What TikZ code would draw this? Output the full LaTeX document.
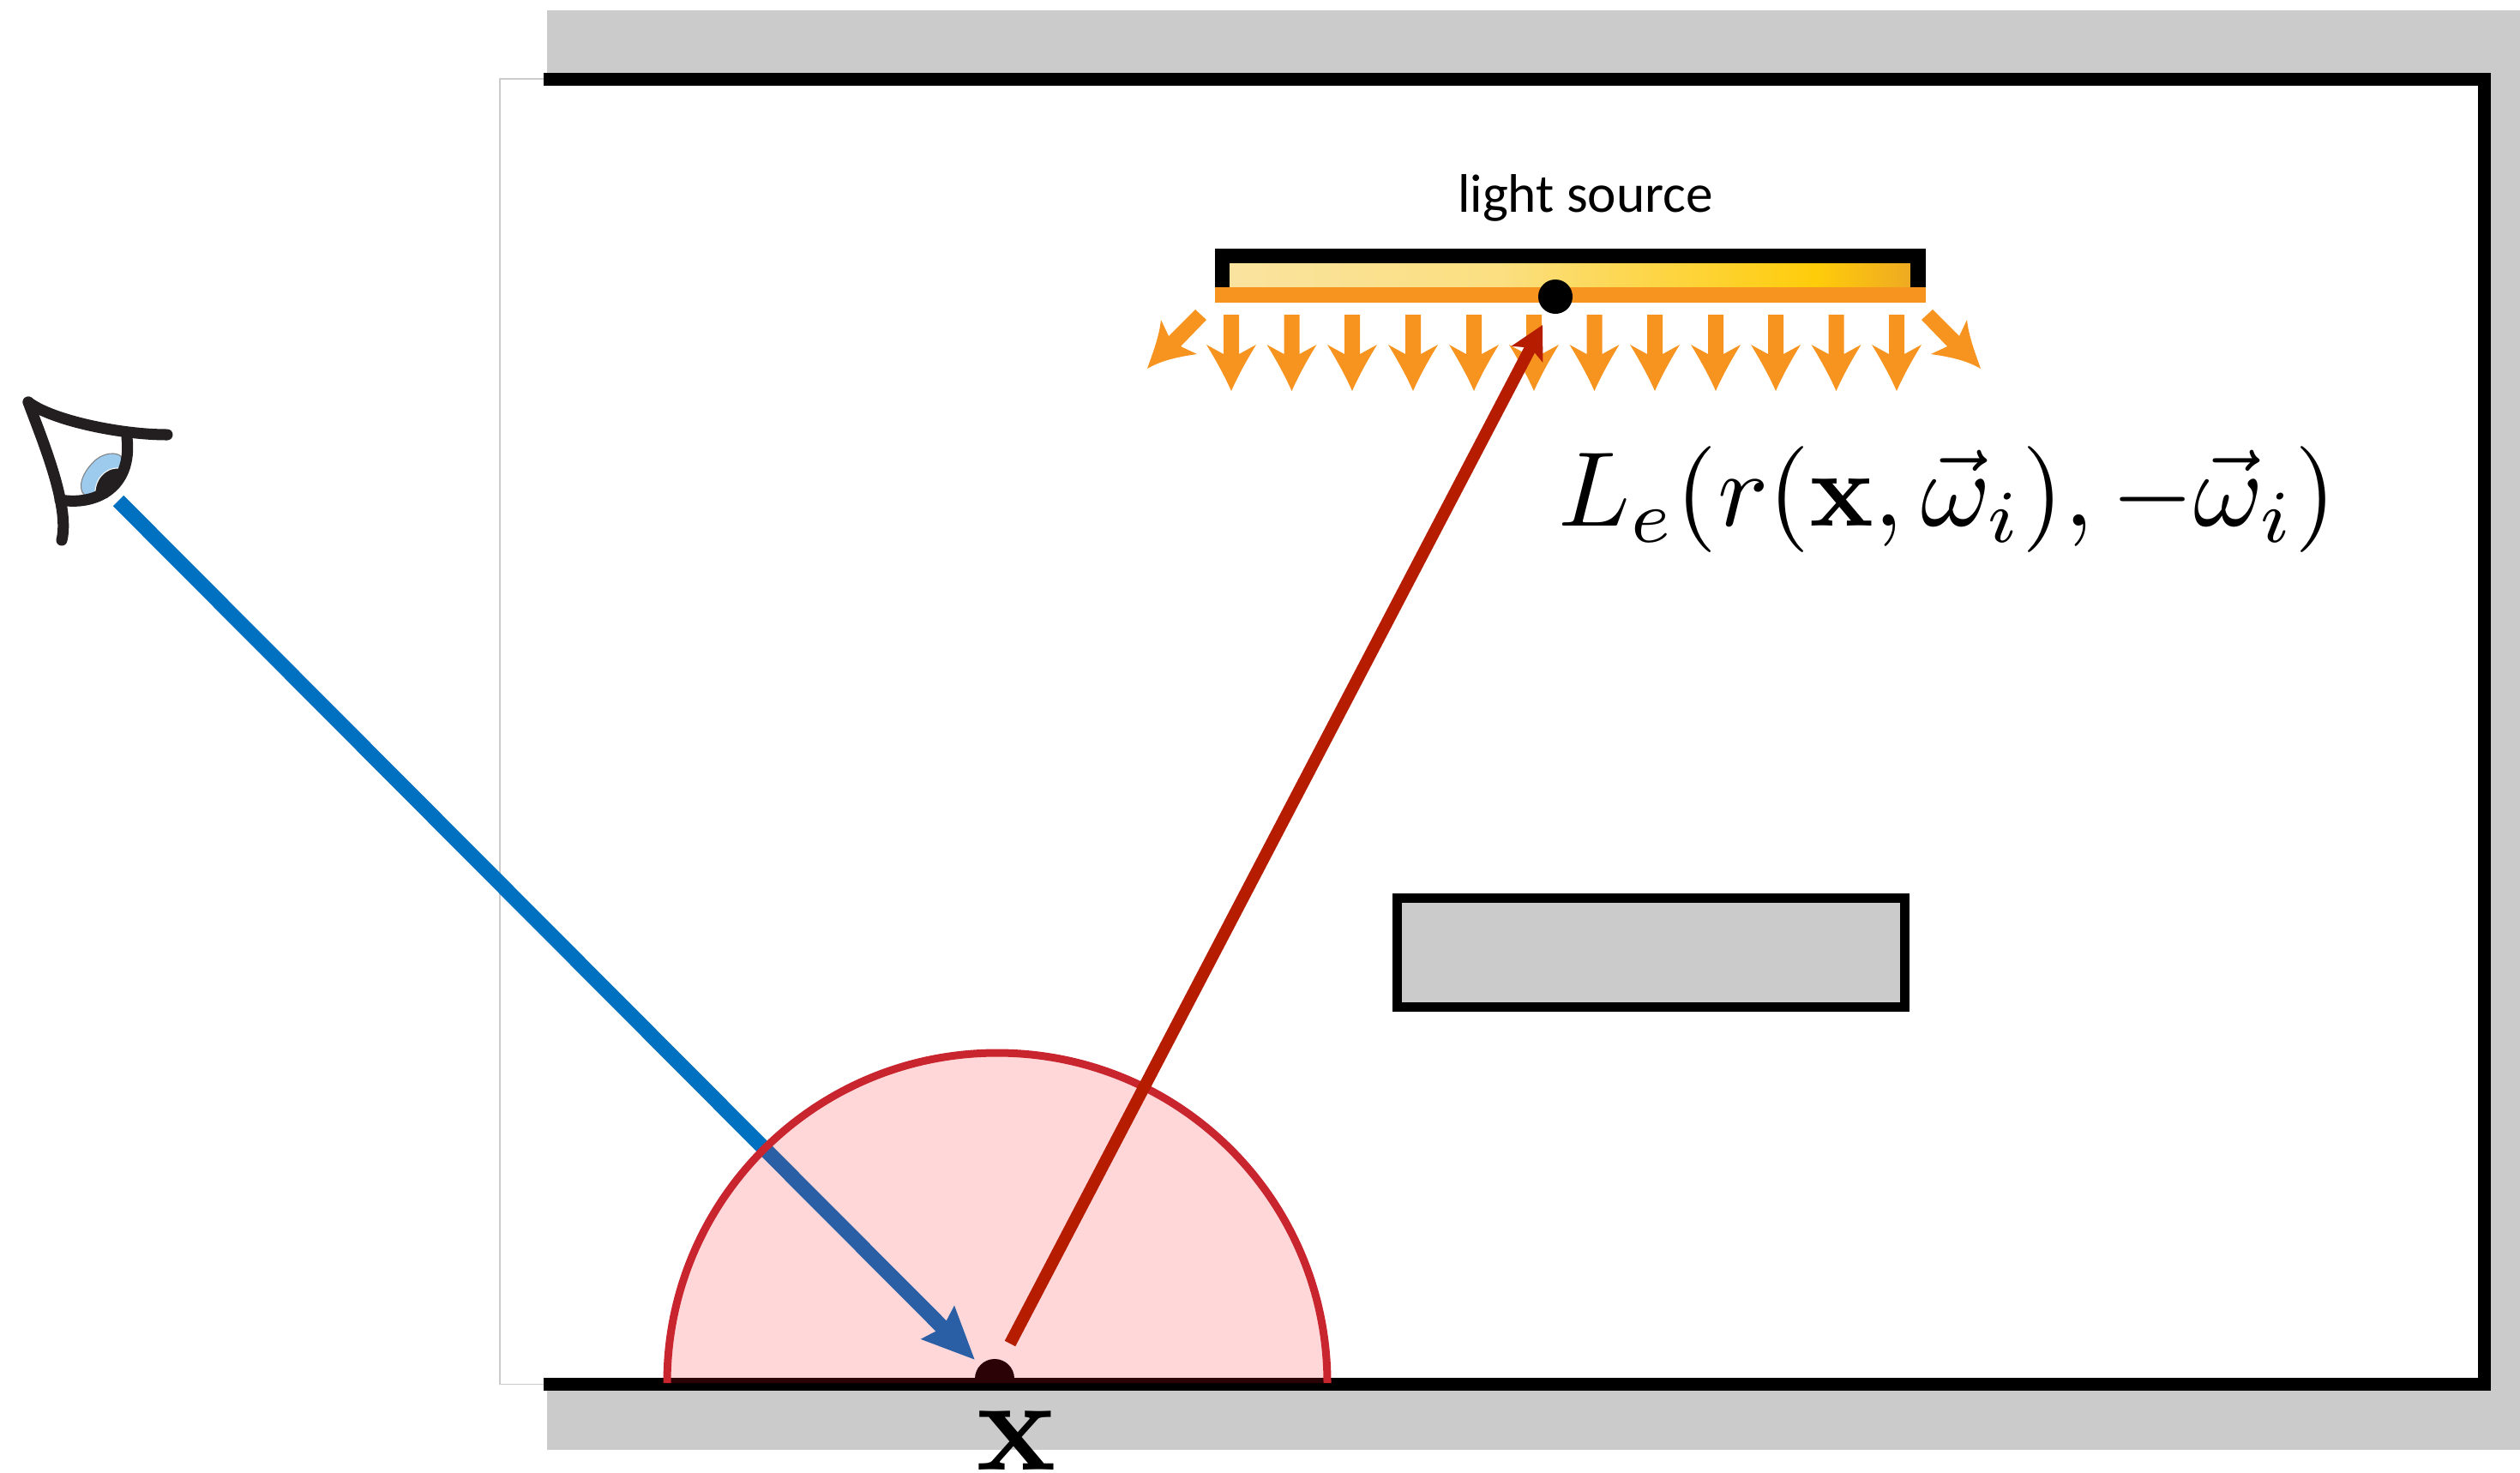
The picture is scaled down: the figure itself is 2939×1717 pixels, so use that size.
\documentclass[tikz,border=0pt]{standalone}
\usepackage{amsmath}
\usepackage[no-math]{fontspec}
\setmainfont{Carlito}
\usetikzlibrary{arrows.meta}
\definecolor{wallgray}{HTML}{CBCBCB}
\definecolor{lamporange}{HTML}{F79420}
\definecolor{rayblue}{HTML}{0070C0}
\definecolor{rayred}{HTML}{B51C00}
\definecolor{domered}{HTML}{FF1020}
\definecolor{domeline}{HTML}{C8252F}
\definecolor{irisblue}{HTML}{9CCBEE}
\definecolor{eyeblack}{HTML}{231F20}
\definecolor{lampA}{HTML}{FAE39F}
\definecolor{lampB}{HTML}{FBDF80}
\definecolor{lampC}{HTML}{FFCC0A}
\definecolor{lampD}{HTML}{EEAA22}
\pgfdeclarehorizontalshading{lampshade}{100bp}{color(0bp)=(lampA);color(25bp)=(lampA);color(45bp)=(lampB);color(68bp)=(lampC);color(75bp)=(lampD);color(100bp)=(lampD)}
\tikzset{
  ray/.style={line width=.175cm},
  eyeline/.style={draw=eyeblack, line width=.13cm, line cap=round},
}
\begin{document}
\begin{tikzpicture}[x=.01cm, y=-.01cm]
  % page size, coordinates below are the pixels of the picture
  \useasboundingbox (0,0) rectangle (2939,1717);
  % hit point, its lower half goes behind the wall
  \node[circle, fill=black, minimum size=.46cm, inner sep=0pt] (hitpoint) at (1160,1608) {};
  % walls
  \fill[wallgray] (638,12) rectangle (2939,92);
  \fill[wallgray] (638,1614) rectangle (2939,1691);
  \fill[wallgray] (2897,12) rectangle (2939,1691);
  \draw[wallgray, line width=.3pt] (634,92) -- (583,92) -- (583,1614) -- (634,1614);
  \draw[line width=.15cm, line join=miter] (634,92.5) -- (2897.5,92.5) -- (2897.5,1614) -- (634,1614);
  % occluder
  \draw[fill=wallgray, line width=.11cm] (1629,1047) rectangle (2221,1174);
  % light source
  \node[font=\fontsize{18}{20}\selectfont, inner sep=0pt] (lightlabel) at (1849,231) {light source};
  \shade[shading=lampshade] (1434,307) rectangle (2228,335);
  \fill (1416.5,290) rectangle (2246,307);
  \fill (1416.5,290) rectangle (1434,335);
  \fill (2228,290) rectangle (2246,335);
  \fill[lamporange] (1416.5,335) rectangle (2246,352.5);
  \foreach \x in {1436,1506.5,1577,1648,1719,1789,1859.5,1930,2001,2071,2141.5,2212} {
    \fill[lamporange] (\x-9,367) -- (\x+9,367) -- (\x+9,413) -- (\x+29,402)
      .. controls (\x+18,420) and (\x+8,438) .. (\x,456)
      .. controls (\x-8,438) and (\x-18,420) .. (\x-29,402) -- (\x-9,413) -- cycle;
  }
  \fill[lamporange] (1394,361) -- (1407,373) -- (1377,404) -- (1396,413)
    .. controls (1375,416) and (1355,420) .. (1338,430)
    .. controls (1345,410) and (1352,392) .. (1354,373) -- (1363,392) -- cycle;
  \fill[lamporange] (2254,361) -- (2241,373) -- (2271,404) -- (2252,413)
    .. controls (2273,416) and (2293,420) .. (2310,430)
    .. controls (2303,410) and (2296,392) .. (2294,373) -- (2285,392) -- cycle;
  \node[circle, fill=black, minimum size=.4cm, inner sep=0pt] (lightpoint) at (1814,346) {};
  % eye
  \fill[irisblue, draw=gray, line width=.3pt] (98,577) .. controls (90,568) and (96,550) .. (112,536)
    .. controls (122,528) and (135,527) .. (141,532) -- (145,550) -- (120,578) -- cycle;
  \fill[eyeblack, draw=white, line width=.3pt] (111,577) .. controls (110,560) and (122,545) .. (139,546) -- (148,550) -- (125,582) -- cycle;
  \draw[eyeline] (33,469) .. controls (60,490) and (140,507) .. (195,507);
  \draw[eyeline] (33,469) .. controls (48,510) and (82,590) .. (72,630);
  \draw[eyeline] (70,583) .. controls (110,590) and (155,570) .. (148,510);
  % rays
  \coordinate (eyeend) at (138,584);
  \coordinate (blueend) at (1137,1586);
  \coordinate (redstart) at (1178,1567);
  \coordinate (redend) at (1799,379);
  \draw[ray, rayblue, -{Stealth[length=.6cm, width=.52cm, inset=.07cm]}] (eyeend) -- (blueend);
  % hemisphere
  \fill[domered, fill opacity=.17] (778,1613) .. controls (778,1400) and (950,1228) .. (1163,1228) .. controls (1376,1228) and (1548,1400) .. (1548,1613) -- cycle;
  \draw[domeline, line width=.09cm] (778,1613) .. controls (778,1400) and (950,1228) .. (1163,1228) .. controls (1376,1228) and (1548,1400) .. (1548,1613);
  \draw[ray, line width=.14cm, rayred, -{Stealth[length=.38cm, width=.4cm, inset=.08cm]}] (redstart) -- (redend);
  % labels
  \node[inner sep=0pt, scale=4.4] (xlabel) at (1185,1680) {$\mathbf{x}$};
  \node[inner sep=0pt, scale=3.52, anchor=west] (radiance) at (1815,583) {$L_e(r(\mathbf{x},\vec{\omega}_i),-\vec{\omega}_i)$};
\end{tikzpicture}
\end{document}
